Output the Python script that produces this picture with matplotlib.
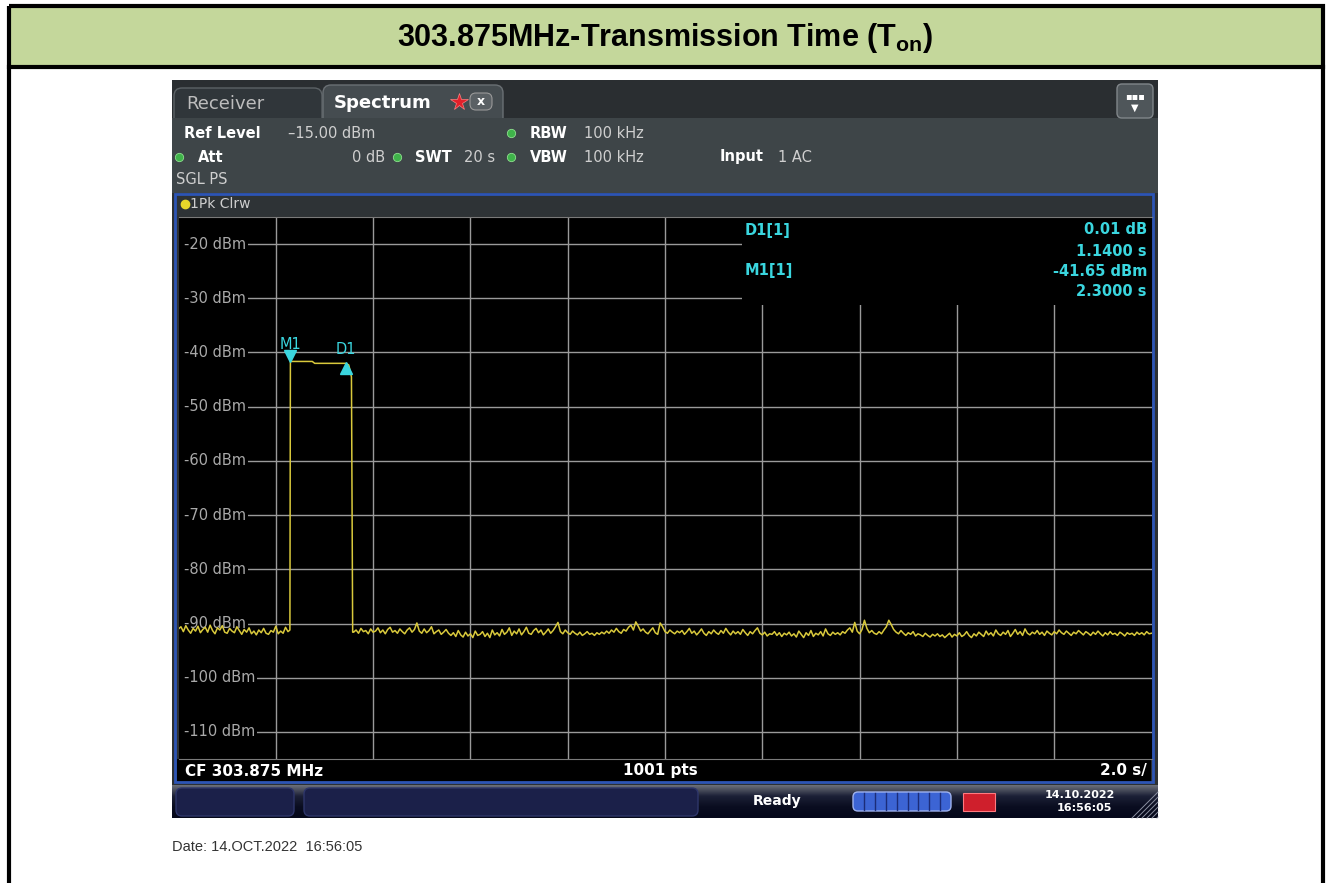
import numpy as np
import matplotlib
matplotlib.use("Agg")
import matplotlib.pyplot as plt
from matplotlib.patches import Rectangle, FancyBboxPatch
from matplotlib.transforms import blended_transform_factory, offset_copy

plt.rcParams['font.family'] = 'DejaVu Sans'
plt.rcParams['mathtext.fontset'] = 'custom'
plt.rcParams['mathtext.rm'] = 'Liberation Sans:bold'

#%% Data
title = "303.875MHz-Transmission Time (T$_{\\mathrm{on}}$)"
ref_level = -15.0          # dBm, top of the display
y_bottom = -115.0          # dBm, bottom of the display
sweep_time = 20.0          # s
n_points = 1001
cf_mhz = 303.875
y_grid = [-20, -30, -40, -50, -60, -70, -80, -90, -100, -110]

# marker readout
m1_time, m1_level = 2.3, -41.65
d1_dt, d1_dl = 1.14, 0.01

# noise floor before the burst (0 .. 2.25 s)
noise_pre = [
    -91.0, -90.6, -91.5, -90.4, -91.2, -91.8, -90.9, -91.4, -90.5, -91.7,
    -91.1, -90.7, -91.6, -90.3, -91.3, -91.9, -90.8, -91.2, -90.4, -91.6,
    -91.8, -90.9, -91.4, -91.7, -90.6, -91.3, -92.0, -91.1, -91.6, -90.8,
    -91.9, -91.4, -92.1, -91.2, -91.7, -90.9, -91.8, -92.0, -91.3, -91.6,
    -90.5, -91.9, -91.4, -91.8, -90.7, -91.5,
]

# the burst itself (time s, level dBm)
burst_t = [2.29, 2.30, 2.75, 2.80, 3.44, 3.50, 3.555, 3.58]
burst_v = [-91.2, -41.65, -41.65, -42.0, -42.0, -42.3, -44.5, -91.6]

# noise floor after the burst (3.6 .. 20 s)
noise_post = [
    -91.6, -91.2, -91.8, -90.9, -91.5, -91.3, -91.9, -91.0, -91.6, -91.4,
    -90.8, -91.7, -91.2, -91.9, -91.1, -90.7, -91.6, -91.3, -91.8, -91.0,
    -91.5, -91.9, -91.2, -90.8, -91.6, -91.1, -89.9, -91.4, -91.8, -91.0,
    -91.7, -91.3, -90.6, -91.9, -91.5, -91.2, -92.0, -91.6, -91.1, -91.8,
    -92.2, -91.7, -92.4, -91.3, -92.1, -92.5, -91.6, -92.3, -91.9, -92.6,
    -91.4, -92.2, -92.0, -91.5, -92.4, -91.8, -92.6, -91.2, -92.1, -91.7,
    -92.3, -91.1, -92.0, -91.6, -90.8, -92.2, -91.4, -91.9, -91.0, -92.1,
    -91.5, -90.7, -91.8, -92.0, -91.3, -90.9, -91.7, -91.2, -92.1, -91.6,
    -91.0, -91.8, -91.3, -90.6, -89.8, -91.5, -91.9, -91.2, -91.7, -92.0,
    -91.4, -91.8, -92.1, -91.6, -92.2, -91.9, -91.5, -92.0, -91.8, -92.2,
    -91.7, -92.0, -91.6, -91.9, -91.4, -91.8, -91.2, -91.6, -90.9, -91.5,
    -91.8, -91.1, -91.4, -90.7, -90.3, -91.2, -89.7, -90.5, -91.4, -91.0,
    -91.6, -91.9, -91.3, -90.8, -91.7, -92.0, -89.9, -90.6, -91.5, -91.8,
    -91.2, -91.6, -91.9, -91.4, -91.7, -91.3, -92.0, -91.5, -90.9, -91.8,
    -91.4, -92.1, -91.6, -91.0, -91.8, -92.2, -91.5, -91.9, -91.2, -91.7,
    -92.0, -91.3, -91.8, -90.9, -91.6, -92.1, -91.4, -91.9, -91.5, -92.0,
    -91.1, -91.7, -92.2, -91.5, -91.9, -91.3, -90.8, -91.8, -92.1, -91.6,
    -92.3, -91.9, -92.0, -91.5, -92.2, -91.7, -92.4, -91.8, -92.1, -91.6,
    -92.3, -91.9, -92.5, -91.4, -92.0, -92.6, -91.7, -92.2, -91.3, -92.4,
    -91.8, -92.1, -91.5, -92.3, -91.0, -91.9, -92.2, -91.6, -92.0, -91.7,
    -92.1, -91.5, -91.8, -91.2, -90.8, -91.6, -89.8, -91.4, -91.9, -91.1,
    -89.4, -90.9, -91.7, -91.3, -91.8, -92.0, -91.5, -91.9, -91.2, -90.6,
    -89.4, -90.2, -91.1, -91.6, -91.9, -91.3, -91.8, -92.2, -91.7, -92.0,
    -91.5, -92.3, -91.9, -92.1, -92.4, -91.8, -92.2, -92.5, -92.0, -92.3,
    -91.9, -92.4, -92.1, -92.6, -92.2, -91.8, -92.5, -92.0, -92.3, -91.7,
    -92.4, -92.1, -91.5, -92.2, -92.6, -91.9, -92.3, -91.6, -92.0, -92.4,
    -91.4, -92.1, -91.7, -92.3, -91.2, -91.9, -92.2, -91.6, -92.0, -91.3,
    -92.4, -91.8, -91.1, -92.0, -91.5, -92.2, -91.0, -91.8, -92.1, -91.6,
    -91.9, -91.3, -92.0, -91.6, -92.2, -91.4, -91.8, -92.1, -91.5, -91.9,
    -91.2, -91.7, -92.0, -91.4, -91.8, -92.2, -91.6, -91.9, -91.3, -91.7,
    -92.1, -91.5, -91.8, -92.2, -91.6, -92.0, -91.4, -91.9, -92.3, -91.7,
    -92.1, -91.5, -92.0, -91.8, -92.2, -91.6, -91.9, -92.3, -91.7, -92.0,
    -91.8, -92.2, -91.6, -92.0, -91.7, -92.1, -91.5, -91.9, -91.8,
]

t_pre = np.linspace(0.0, 2.25, len(noise_pre))
t_post = np.linspace(3.6, sweep_time, len(noise_post))
trace_t = np.concatenate([t_pre, burst_t, t_post])
trace_v = np.concatenate([noise_pre, burst_v, noise_post])

#%% Colours
GREEN_BAND = '#c4d79b'
CYAN = '#3ad6df'
YELLOW = '#d9c93c'
GRID = '#9a9a9a'
TXT = '#cfcfcf'
DOT = '#3fb34a'

W, H = 1330, 883
fig = plt.figure(figsize=(W / 100, H / 100), dpi=100)

# pixel-space layer for the page and the instrument chrome
bg = fig.add_axes([0, 0, 1, 1], zorder=0)
bg.set_xlim(0, W)
bg.set_ylim(H, 0)
bg.axis('off')


def box(x0, y0, x1, y1, fc, ec='none', lw=0, r=None, **kw):
    if r is None:
        p = Rectangle((x0, y0), x1 - x0, y1 - y0, fc=fc, ec=ec, lw=lw, **kw)
    else:
        p = FancyBboxPatch((x0, y0), x1 - x0, y1 - y0,
                           boxstyle=f"round,pad=0,rounding_size={r}",
                           fc=fc, ec=ec, lw=lw, **kw)
    bg.add_patch(p)
    return p


# page frame and title band
box(9, 6, 1323, 66, GREEN_BAND)
bg.add_patch(Rectangle((9, 6), 1314, 890, fc='none', ec='black', lw=3))
bg.plot([9, 1323], [67, 67], color='black', lw=3)

# screenshot chrome
box(172, 80, 1158, 118, '#2a2e31')
box(174, 88, 322, 126, '#30363a', ec='#5c6266', lw=1, r=8)
box(323, 85, 503, 126, '#454c50', ec='#6a7074', lw=1, r=8)
box(172, 118, 1158, 193, '#3e4548')
box(1117, 84, 1153, 118, '#4f565a', ec='#80868a', lw=1, r=5)
box(470, 93, 492, 110, '#5a6064', ec='#999', lw=0.8, r=6)
box(172, 193, 1158, 786, '#2c3033')
box(177, 196, 1151, 216, '#2e3336')
box(177, 759, 1151, 782, 'black')
bg.add_patch(Rectangle((175, 194), 978, 588, fc='none', ec='#2d55b5', lw=2))

# status bar with a vertical shading
shade = np.linspace(0, 1, 40)[:, None]
bg.imshow(shade, extent=[172, 1158, 818, 785], cmap=matplotlib.colors.LinearSegmentedColormap.from_list(
    'bar', ['#6a6e78', '#1c2036', '#0a0d20', '#05081a']), aspect='auto', zorder=1)
box(176, 788, 294, 816, '#1b2049', ec='#2e366a', lw=1, r=6, zorder=2)
box(304, 788, 698, 816, '#1b2049', ec='#2e366a', lw=1, r=6, zorder=2)
box(853, 792, 951, 811, '#3c64d4', ec='#9fb2ee', lw=1, r=5, zorder=2)
for k in range(1, 9):
    bg.plot([853 + k * 10.9] * 2, [793, 810], color='#1c2c78', lw=1, zorder=3)
box(963, 793, 995, 811, '#cf1f2c', ec='#ff7a80', lw=0.8, zorder=2)
for k in range(6):
    bg.plot([1132 + k * 5, 1158], [818, 792 + k * 5], color='#8a8fa0', lw=0.7, zorder=3)

#%% Trace display
ax = fig.add_axes([178.5 / W, (H - 759) / H, 973 / W, 542 / H], zorder=2)
ax.set_facecolor('black')
ax.set_xlim(0, sweep_time)
ax.set_ylim(y_bottom, ref_level)
ax.set_xticks(np.arange(2, sweep_time, 2))
ax.set_yticks(y_grid)
ax.tick_params(length=0, labelbottom=False, labelleft=False)
ax.grid(color=GRID, lw=1.0)
ax.set_axisbelow(True)
for s in ['left', 'right']:
    ax.spines[s].set_visible(False)
for s in ['top', 'bottom']:
    ax.spines[s].set_color('#7a7a7a')

# level labels sit on black, the grid lines start after them
ax.add_patch(Rectangle((0, 0), 0.008, 1, transform=ax.transAxes,
                       fc='black', ec='none', zorder=1.5))
tr = blended_transform_factory(ax.transAxes, ax.transData)
for v in y_grid:
    ax.text(0.006, v, f"{v} dBm", transform=tr, color='#a9a9a9', fontsize=10.5,
            va='center', ha='left', zorder=2,
            bbox=dict(fc='black', ec='none', pad=1.2))

# marker readout area hides the grid
ax.add_patch(Rectangle((0.579, 0.838), 0.421, 0.162, transform=ax.transAxes,
                       fc='black', ec='none', zorder=2))

ax.plot(trace_t, trace_v, color=YELLOW, lw=1.1, zorder=3)

d1_time, d1_level = m1_time + d1_dt, m1_level + d1_dl
ax.plot(m1_time, m1_level, marker='v', ms=9, color=CYAN, ls='none', zorder=4,
        transform=offset_copy(ax.transData, fig, y=5, units='dots'))
ax.plot(d1_time, d1_level, marker='^', ms=9, color=CYAN, ls='none', zorder=4,
        transform=offset_copy(ax.transData, fig, y=-7, units='dots'))
ax.annotate("M1", (m1_time, m1_level), xytext=(0, 12), textcoords='offset points',
            color=CYAN, fontsize=10.5, ha='center', va='center', zorder=4)
ax.annotate("D1", (d1_time, d1_level), xytext=(0, 8.5), textcoords='offset points',
            color=CYAN, fontsize=10.5, ha='center', va='center', zorder=4)

#%% Text layer on top
fg = fig.add_axes([0, 0, 1, 1], zorder=5)
fg.set_xlim(0, W)
fg.set_ylim(H, 0)
fg.axis('off')
fg.patch.set_alpha(0)

fg.text(665, 38, title, fontsize=22, ha='center', va='center',
        family='Liberation Sans', weight='bold', color='black')

fg.text(186, 104, "Receiver", fontsize=13, color='#bdbdbd', va='center')
fg.text(334, 103, "Spectrum", fontsize=13, color='white', weight='bold', va='center')
fg.plot(459, 102, marker='*', ms=13, color='#e4202a', mec='#ff8080', mew=0.5)
fg.text(481, 101.5, "x", fontsize=9, color='white', weight='bold', ha='center', va='center')
fg.text(1135, 96, "\u25aa\u25aa\u25aa", fontsize=7, color='white', ha='center', va='center')
fg.text(1135, 108, "\u25bc", fontsize=7, color='white', ha='center', va='center')

info = dict(fontsize=10.5, va='center')
fg.text(184, 133, "Ref Level", color='white', weight='bold', **info)
fg.text(288, 133, f"{ref_level:.2f} dBm".replace('-', '\u2013'), color=TXT, **info)
fg.text(198, 157, "Att", color='white', weight='bold', **info)
fg.text(385, 157, "0 dB", color=TXT, ha='right', **info)
fg.text(415, 157, "SWT", color='white', weight='bold', **info)
fg.text(464, 157, f"{sweep_time:.0f} s", color=TXT, **info)
fg.text(530, 133, "RBW", color='white', weight='bold', **info)
fg.text(584, 133, "100 kHz", color=TXT, **info)
fg.text(530, 157, "VBW", color='white', weight='bold', **info)
fg.text(584, 157, "100 kHz", color=TXT, **info)
fg.text(720, 157, "Input", color='white', weight='bold', **info)
fg.text(778, 157, "1 AC", color=TXT, **info)
fg.text(176, 180, "SGL PS", color=TXT, **info)
for x, y in [(511, 133), (179, 157), (397, 157), (511, 157)]:
    fg.plot(x, y, marker='o', ms=6, color=DOT, mec='#8fe08f', mew=0.6)

fg.plot(185, 204, marker='o', ms=6, color='#e8d62a')
fg.text(190, 204, "1Pk Clrw", color=TXT, fontsize=10, va='center')

mk = dict(color=CYAN, fontsize=10.5, weight='bold', va='center')
fg.text(745, 230, "D1[1]", **mk)
fg.text(745, 271, "M1[1]", **mk)
fg.text(1147, 230, f"{d1_dl:.2f} dB", ha='right', **mk)
fg.text(1147, 251, f"{d1_dt:.4f} s", ha='right', **mk)
fg.text(1147, 271, f"{m1_level:.2f} dBm", ha='right', **mk)
fg.text(1147, 292, f"{m1_time:.4f} s", ha='right', **mk)

bt = dict(color='white', fontsize=11, weight='bold', va='center')
fg.text(185, 771, f"CF {cf_mhz:.3f} MHz", **bt)
fg.text(660, 771, f"{n_points} pts", ha='center', **bt)
fg.text(1147, 771, f"{sweep_time / 10:.1f} s/", ha='right', **bt)

fg.text(777, 801, "Ready", color='white', fontsize=10, weight='bold', ha='center', va='center')
fg.text(1080, 795, "14.10.2022", color='white', fontsize=8, weight='bold', ha='center', va='center')
fg.text(1084, 808, "16:56:05", color='white', fontsize=8, weight='bold', ha='center', va='center')

fg.text(172, 847, "Date: 14.OCT.2022  16:56:05", fontsize=10.5, family='Liberation Sans',
        color='#333333', va='center')

plt.savefig('out.png', dpi=100)
